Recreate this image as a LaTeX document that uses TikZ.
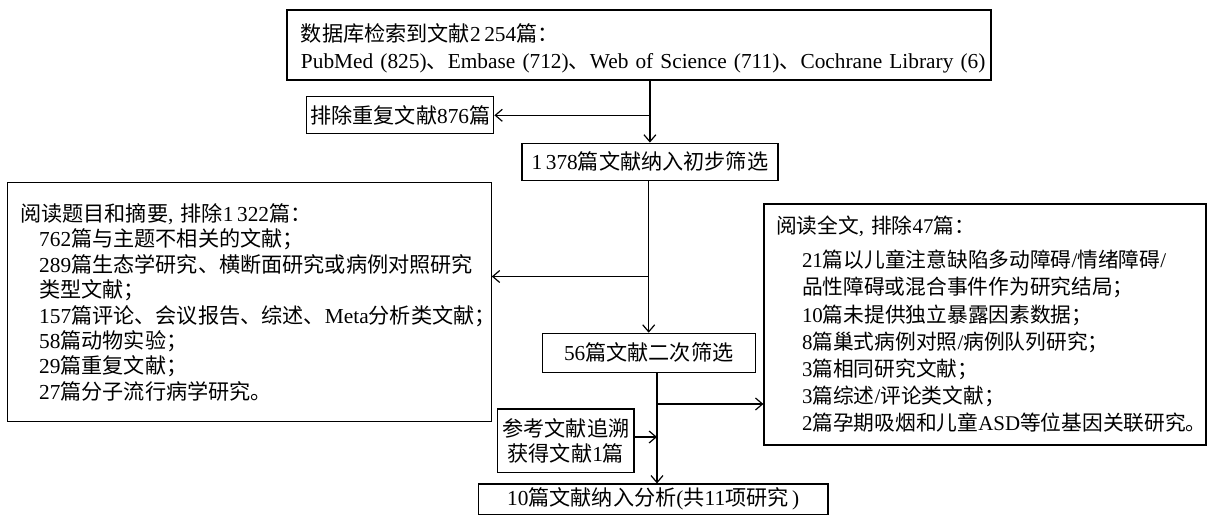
\documentclass[tikz,border=0pt]{standalone}
\usepackage{fontspec}
\setmainfont{Liberation Serif}[Scale=1.04]
\newfontfamily\cjkfont{Noto Sans CJK SC}[Scale=1.03]
\newcommand\latinfont{\rmfamily}
\XeTeXinterchartokenstate=1
\newXeTeXintercharclass\cjkclass
\makeatletter
\newcommand\setcjkrange[2]{\count@=#1\relax
  \loop\XeTeXcharclass\count@=\cjkclass
  \ifnum\count@<#2\relax\advance\count@ by 1\repeat}
\makeatother
\setcjkrange{"3000}{"303F}
\setcjkrange{"4E00}{"9FFF}
\setcjkrange{"FF00}{"FFEF}
\XeTeXinterchartoks 0 \cjkclass={\cjkfont}
\XeTeXinterchartoks 4095 \cjkclass={\cjkfont}
\XeTeXinterchartoks \cjkclass 0={\latinfont}
\XeTeXinterchartoks \cjkclass 4095={\latinfont}
\usetikzlibrary{arrows.meta}
\begin{document}
\begin{tikzpicture}[x=1bp,y=-1bp,
  box/.style={draw, line width=1.2bp, inner sep=0pt, font=\fontsize{20.6}{25}\selectfont},
  arr/.style={line width=1.2bp, -{Straight Barb[length=7bp,width=12bp]}}]
\useasboundingbox (0,0) rectangle (1211,516);
\node[box, minimum width=704bp, minimum height=70bp, text width=676bp, align=left,
  text height=20bp, text depth=26bp,
  font=\fontsize{20.6}{27}\selectfont] (top) at (639,45)
  {数据库检索到文献2\,254篇：\\\mbox{PubMed (825)、Embase (712)、Web of Science (711)、Cochrane Library (6)}};
\node[box, minimum width=187bp, minimum height=37bp] (ex) at (400.3,115.3) {排除重复文献876篇};
\node[box, minimum width=256bp, minimum height=37bp] (n1) at (649.9,161.7) {1\,378篇文献纳入初步筛选};
\node[box, minimum width=484bp, minimum height=239bp, text width=458bp, align=left,
  font=\fontsize{20.6}{25.5}\selectfont] (lb) at (249.2,302.3)
  {\mbox{阅读题目和摘要, 排除1\,322篇：}\\
   \hspace*{19bp}762篇与主题不相关的文献；\\
   \hspace*{19bp}\mbox{289篇生态学研究、横断面研究或病例对照研究}\\
   \hspace*{19bp}类型文献；\\
   \hspace*{19bp}\mbox{157篇评论、会议报告、综述、Meta分析类文献；}\\
   \hspace*{19bp}58篇动物实验；\\
   \hspace*{19bp}29篇重复文献；\\
   \hspace*{19bp}27篇分子流行病学研究。};
\node[box, minimum width=213bp, minimum height=39bp] (n2) at (648.7,352.8) {56篇文献二次筛选};
\node[box, minimum width=442bp, minimum height=241bp, text width=418bp, align=left,
  font=\fontsize{20.2}{27.3}\selectfont] (rb) at (985,324.5)
  {\mbox{阅读全文, 排除47篇：}\\[6.7bp]
   \hspace*{26bp}21篇以儿童注意缺陷多动障碍/情绪障碍/\\
   \hspace*{26bp}品性障碍或混合事件作为研究结局；\\
   \hspace*{26bp}10篇未提供独立暴露因素数据；\\
   \hspace*{26bp}8篇巢式病例对照/病例队列研究；\\
   \hspace*{26bp}3篇相同研究文献；\\
   \hspace*{26bp}3篇综述/评论类文献；\\
   \hspace*{26bp}\mbox{2篇孕期吸烟和儿童ASD等位基因关联研究。}};
\node[box, minimum width=136.3bp, minimum height=63.3bp, align=center] (ref) at (565.9,440.7)
  {参考文献追溯\\获得文献1篇};
\node[box, minimum width=349.7bp, minimum height=30.5bp] (fin) at (653.2,499.3)
  {10篇文献纳入分析(共11项研究\,)};
\coordinate (j1) at (648.7,276.5);
\coordinate (j2) at (657,404);
\coordinate (j3) at (634,437);
\draw[arr] (top.south -| n1.north) -- (n1.north);
\draw[arr] (ex.east -| n1.north) -- (ex.east);
\draw[arr] (n1.south -| n2.north) -- (n2.north);
\draw[arr] (j1) -- (j1 -| lb.east);
\draw[arr] (j2 |- n2.south) -- (j2 |- fin.north);
\draw[arr] (j2) -- (j2 -| rb.west);
\draw[arr] (j3 -| ref.east) -- (j3 -| j2);
\end{tikzpicture}
\end{document}
